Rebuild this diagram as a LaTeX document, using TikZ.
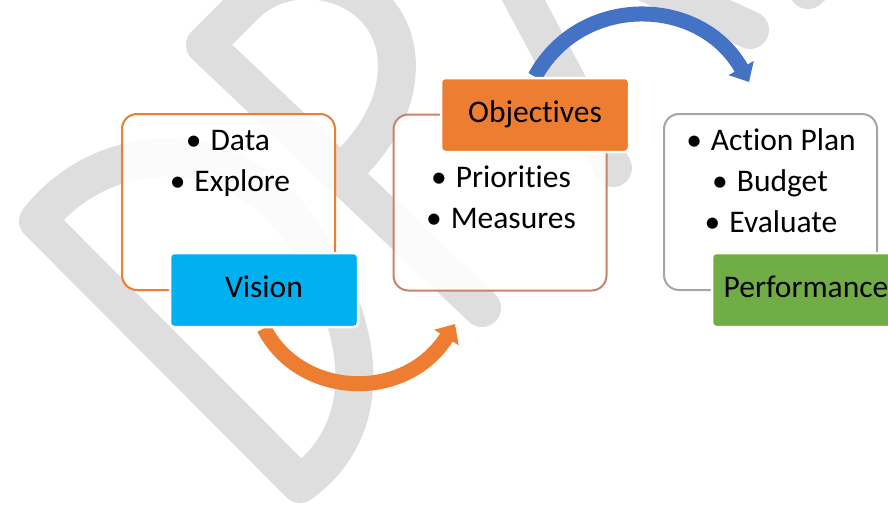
\documentclass[tikz,border=0pt]{standalone}
\usepackage{fontspec}
\setmainfont{Carlito}[RawFeature={-liga}]
\usetikzlibrary{arrows.meta,backgrounds}

\definecolor{accentorange}{HTML}{ED7D31}
\definecolor{accentblue}{HTML}{4472C4}
\definecolor{skyblue}{HTML}{00B0F0}
\definecolor{leafgreen}{HTML}{70AD47}
\definecolor{clayline}{HTML}{C8826C}
\definecolor{greyline}{HTML}{A5A5A5}
\definecolor{markgrey}{HTML}{DEDEDE}

\tikzset{
  panel/.style={rectangle, rounded corners=15pt, line width=2pt, fill=white, fill opacity=0.9,
    minimum width=213pt, minimum height=176pt, inner sep=0pt},
  tag/.style={rectangle, rounded corners=4pt, draw=white, line width=2.5pt,
    minimum width=188pt, minimum height=74pt, inner sep=0pt,
    text height=20pt, text depth=6pt, font=\fontsize{31.5}{38}\selectfont},
  item/.style={anchor=base, inner sep=0pt, font=\fontsize{31.5}{38}\selectfont},
  flow/.style={line width=15pt, -{Triangle[width=28pt,length=16pt]}},
  wmark/.style={draw=markgrey, line width=38pt, line cap=round, line join=round}
}

\begin{document}
\begin{tikzpicture}[x=1pt, y=-1pt]
  \useasboundingbox (0,0) rectangle (888,506);

  % Panels behind the step tags
  \node[panel, draw=accentorange] (visionpanel) at (228.5,202) {};
  \node[panel, draw=clayline] (objpanel) at (500,202.5) {};
  \node[panel, draw=greyline] (perfpanel) at (770.5,202) {};

  % Step tags
  \node[tag, fill=skyblue] (vision) at (264,290) {Vision};
  \node[tag, fill=accentorange] (objectives) at (535,115) {Objectives};
  \node[tag, fill=leafgreen] (performance) at (806,290) {Performance};

  % Bullet items
  \node[item] (data) at (228,150) {\textbullet\hspace{9pt}Data};
  \node[item] (explore) at (230,191) {\textbullet\hspace{9pt}Explore};
  \node[item] (priorities) at (501,187) {\textbullet\hspace{9pt}Priorities};
  \node[item] (measures) at (501,228) {\textbullet\hspace{9pt}Measures};
  \node[item] (actionplan) at (771,150) {\textbullet\hspace{9pt}Action Plan};
  \node[item] (budget) at (770,191) {\textbullet\hspace{9pt}Budget};
  \node[item] (evaluate) at (771,232) {\textbullet\hspace{9pt}Evaluate};

  \coordinate (orangetip) at (455,324);
  \coordinate (bluetip) at (749,82);

  \begin{scope}[on background layer]
    % Watermark
    \draw[wmark] (300,484) -- (38,221) .. controls (100,140) and (230,130) .. (300,230)
      .. controls (370,330) and (375,430) .. cycle;
    \draw[wmark] (482,308) -- (205,45) -- (245,5) .. controls (300,-50) and (420,-10) .. (393,95)
      .. controls (385,125) and (365,150) .. (345,170);
    \draw[wmark] (518,-10) -- (613,168);
    \draw[wmark] (640,-20) -- (750,30);
    \draw[wmark] (808,-10) -- (850,-50);

    % Curved arrows
    \draw[flow, accentorange] (vision.south) .. controls +(36,70) and +(-50,79) .. (orangetip);
    \draw[flow, accentblue] (objectives.north) .. controls +(45,-83) and +(-49,-87) .. (bluetip);
  \end{scope}
\end{tikzpicture}
\end{document}
